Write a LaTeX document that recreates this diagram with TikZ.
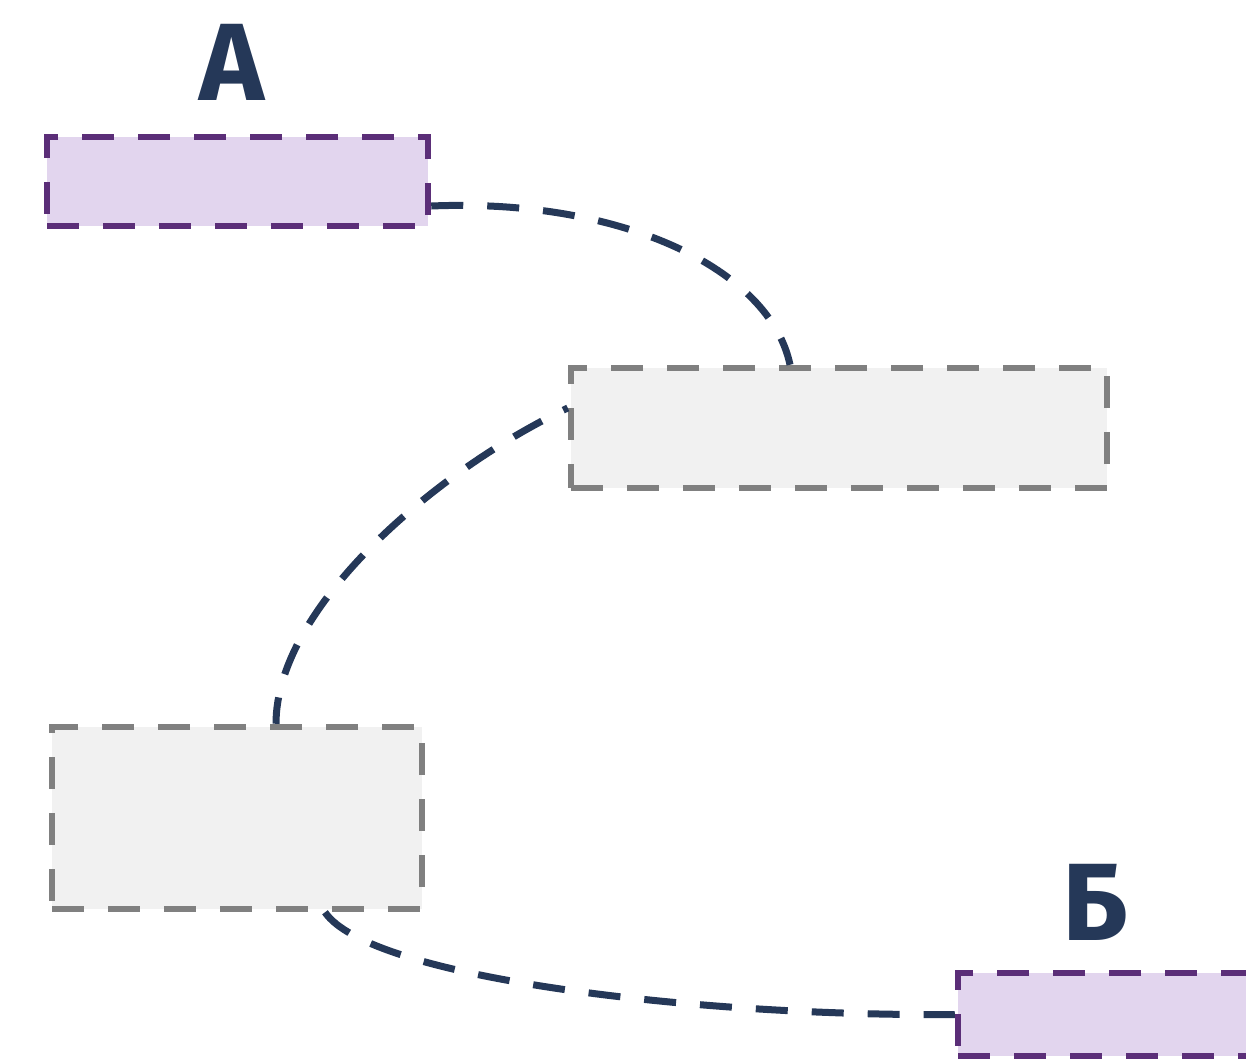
\documentclass[tikz,border=0pt]{standalone}
\usepackage{fontspec}
\setmainfont{Fira Sans}
\definecolor{navy}{HTML}{253858}
\definecolor{purp}{HTML}{5B2E78}
\definecolor{lav}{HTML}{E2D5EE}
\definecolor{grayline}{HTML}{808080}
\definecolor{grayfill}{HTML}{F1F1F1}
\tikzset{
  endbox/.style={draw=purp, fill=lav, line width=6.5pt, dash pattern=on 32pt off 24pt, inner sep=0pt, rectangle},
  midbox/.style={draw=grayline, fill=grayfill, line width=6.5pt, dash pattern=on 32pt off 24pt, inner sep=0pt, rectangle},
  conn/.style={draw=navy, line width=7pt, dash pattern=on 32pt off 24pt},
  biglabel/.style={text=navy, font=\fontsize{110}{110}\selectfont\bfseries, inner sep=0pt, anchor=base}
}
\begin{document}
\begin{tikzpicture}[x=1pt,y=-1pt]
\useasboundingbox (0,0) rectangle (1246,1061);
\clip (0,0) rectangle (1246,1061);
\node[endbox, minimum width=381pt, minimum height=89pt] (A) at (237.5,181.5) {};
\node[midbox, minimum width=536pt, minimum height=120pt] (M) at (839,428) {};
\node[midbox, minimum width=370pt, minimum height=182pt] (L) at (237,818) {};
\node[endbox, minimum width=330pt, minimum height=83pt] (B) at (1123,1014.5) {};
\node[biglabel] (la) at (232,100) {А};
\node[biglabel] (lb) at (1095,940) {Б};
\draw[conn] ([yshift=-24.5pt]A.east) .. controls +(192,-8) and +(-20,-95) .. ([xshift=-49pt]M.north);
\draw[conn, dash phase=27pt] ([yshift=20pt]M.west) .. controls +(-131,62) and +(0,-117) .. ([xshift=39pt]L.north);
\draw[conn] ([xshift=88pt]L.south) .. controls +(45,66) and +(-258,2) .. (B.west);
\end{tikzpicture}
\end{document}
